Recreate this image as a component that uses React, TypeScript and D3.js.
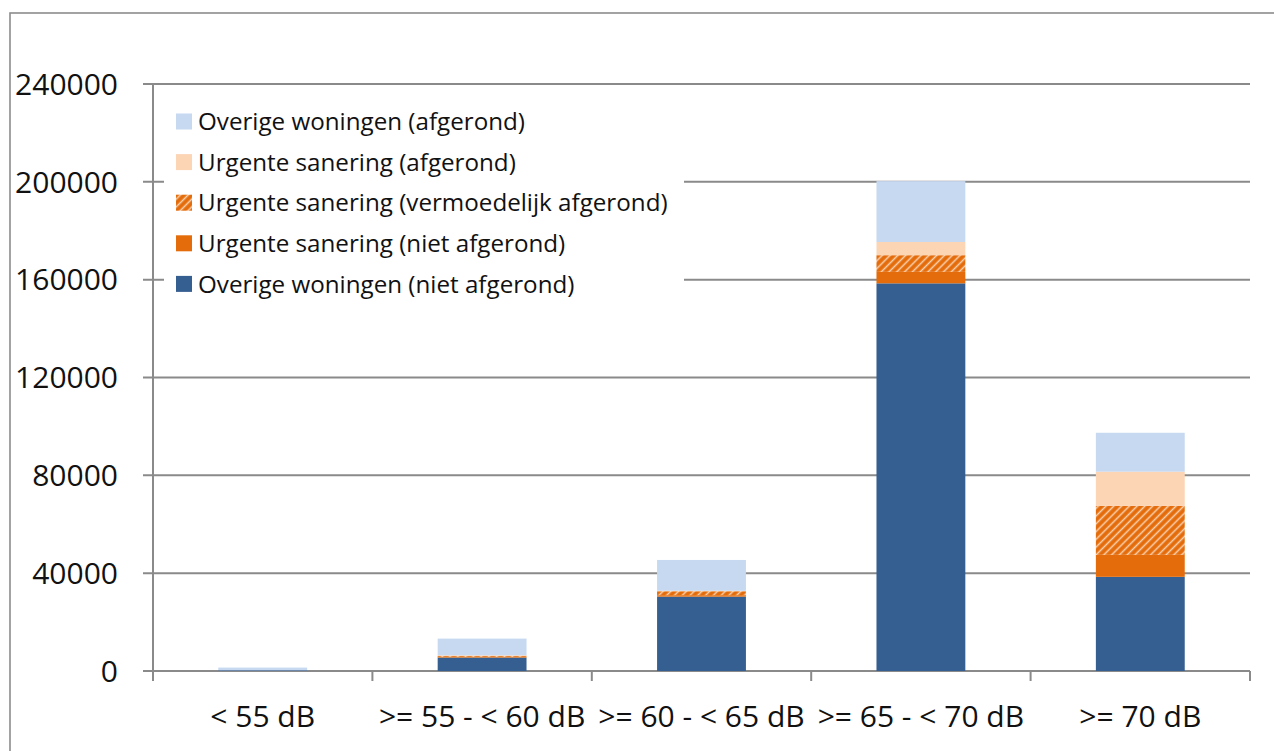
import React from "react";
import * as d3 from "d3";

const categories = ["< 55 dB", ">= 55 - < 60 dB", ">= 60 - < 65 dB", ">= 65 - < 70 dB", ">= 70 dB"];
const overigeNietAfgerond = [300, 5500, 30400, 158500, 38500];
const urgentNietAfgerond = [0, 300, 600, 4700, 9000];
const urgentVermoedelijk = [0, 400, 1600, 6800, 20000];
const urgentAfgerond = [0, 200, 200, 5400, 14000];
const overigeAfgerond = [1100, 6850, 12600, 24900, 15900];
const yTicks = [0, 40000, 80000, 120000, 160000, 200000, 240000];

const seriesKeys = ["onA", "unA", "uv", "ua", "oa"];
const seriesLabels: Record<string, string> = {
  onA: "Overige woningen (niet afgerond)",
  unA: "Urgente sanering (niet afgerond)",
  uv: "Urgente sanering (vermoedelijk afgerond)",
  ua: "Urgente sanering (afgerond)",
  oa: "Overige woningen (afgerond)",
};
const seriesFill: Record<string, string> = {
  onA: "#365F91",
  unA: "#E46C0A",
  uv: "url(#hatch)",
  ua: "#FCD5B5",
  oa: "#C6D9F1",
};
const legendOrder = ["oa", "ua", "uv", "unA", "onA"];

const W = 1274;
const H = 751;
const left = 153;
const right = 1250;
const top = 84;
const bottom = 671;
const font = "'Open Sans', sans-serif";
const grid = "#8A8A8A";

export default function App() {
  const rows = categories.map((c, i) => ({
    cat: c,
    onA: overigeNietAfgerond[i],
    unA: urgentNietAfgerond[i],
    uv: urgentVermoedelijk[i],
    ua: urgentAfgerond[i],
    oa: overigeAfgerond[i],
  }));
  const stacked = d3.stack<any>().keys(seriesKeys)(rows);
  const x = d3.scaleBand().domain(categories).range([left, right]).paddingInner(0.595).paddingOuter(0.2975);
  const y = d3.scaleLinear().domain([0, 240000]).range([bottom, top]);
  const step = (right - left) / categories.length;
  const catEdges = d3.range(categories.length + 1).map((i) => left + i * step);

  return (
    <svg width={W} height={H} style={{ position: "absolute", left: 0, top: 0, background: "#fff" }}>
      <defs>
        <pattern id="hatch" width={5.5} height={5.5} patternUnits="userSpaceOnUse" patternTransform="rotate(45)">
          <rect width={5.5} height={5.5} fill="#E46C0A" />
          <line x1={1.4} y1={0} x2={1.4} y2={5.5} stroke="#FAD3B3" strokeWidth={1.5} />
        </pattern>
      </defs>
      <rect x={0} y={0} width={W} height={H} fill="#fff" />
      <rect x={10} y={13} width={1400} height={900} fill="none" stroke="#8C8C8C" strokeWidth={1.6} />
      {/* gridlines */}
      {yTicks.map((t) => (
        <line key={t} x1={143} x2={right} y1={y(t)} y2={y(t)} stroke={grid} strokeWidth={2} />
      ))}
      {/* y axis */}
      <line x1={left} x2={left} y1={top} y2={bottom + 10} stroke={grid} strokeWidth={2} />
      {catEdges.map((e, i) => (
        <line key={i} x1={e} x2={e} y1={bottom} y2={bottom + 10} stroke={grid} strokeWidth={2} />
      ))}
      {/* legend box */}
      <rect x={164} y={98} width={520} height={206} fill="#fff" />
      {/* bars */}
      {stacked.map((s) => (
        <g key={s.key} fill={seriesFill[s.key]}>
          {s.map((d, i) =>
            d[1] - d[0] > 0 ? (
              <rect
                key={i}
                x={x(categories[i])}
                width={x.bandwidth()}
                y={y(d[1])}
                height={y(d[0]) - y(d[1])}
              />
            ) : null
          )}
        </g>
      ))}
      {/* y labels */}
      {yTicks.map((t) => (
        <text key={t} x={118} y={y(t)} dy="0.36em" textAnchor="end" fontFamily={font} fontSize={30} fill="#111">
          {t}
        </text>
      ))}
      {/* x labels */}
      {categories.map((c) => (
        <text key={c} x={x(c)! + x.bandwidth() / 2} y={727} textAnchor="middle" fontFamily={font} fontSize={30} fill="#111">
          {c}
        </text>
      ))}
      {/* legend */}
      {legendOrder.map((k, i) => {
        const cy = 121.5 + i * 40.6;
        return (
          <g key={k}>
            <rect x={176} y={cy - 8} width={16} height={16} fill={seriesFill[k]} />
            <text x={198} y={cy} dy="0.36em" fontFamily={font} fontSize={24.2} fill="#111">
              {seriesLabels[k]}
            </text>
          </g>
        );
      })}
    </svg>
  );
}
